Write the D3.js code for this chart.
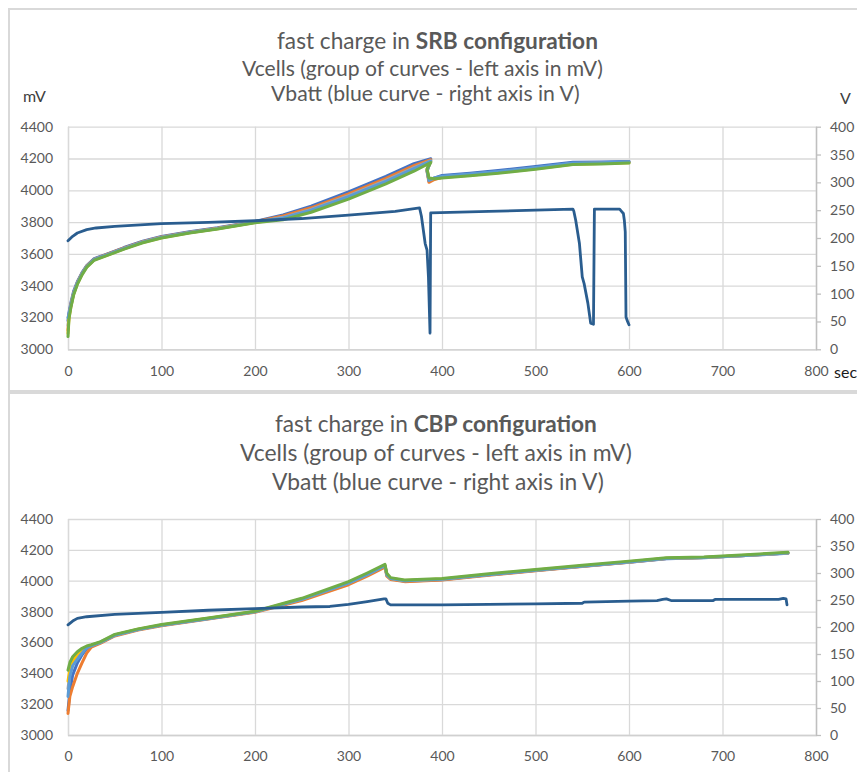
<!DOCTYPE html>
<html>
<head>
<meta charset="utf-8">
<script src="https://cdn.jsdelivr.net/npm/d3@7"></script>
<style>
  body { margin: 0; background: #fff; }
  svg { display: block; font-family: Lato, "Open Sans", sans-serif; }
</style>
</head>
<body>
<svg id="chart" width="857" height="772"></svg>
<script>
// tick labels
var xTicks = [0, 100, 200, 300, 400, 500, 600, 700, 800];
var mvTicks = [3000, 3200, 3400, 3600, 3800, 4000, 4200, 4400];
var vTicks = [0, 50, 100, 150, 200, 250, 300, 350, 400];

// SRB : cell voltages (mV) vs time (s) - note the hook after the peak
var srbT = [0, 1, 3, 6, 10, 15, 20, 28, 40, 60, 80, 100, 130, 160, 200, 230, 260, 300, 340, 370, 388, 384, 386, 392, 400, 430, 460, 500, 540, 570, 600];
var srbCell1 = [3180, 3230, 3290, 3365, 3425, 3482, 3526, 3570, 3596, 3640, 3680, 3710, 3740, 3765, 3804, 3845, 3900, 3990, 4088, 4168, 4198, 4128, 4060, 4078, 4093, 4108, 4124, 4150, 4176, 4178, 4181];
var srbCell2 = [3120, 3210, 3280, 3355, 3420, 3478, 3523, 3567, 3593, 3637, 3677, 3707, 3737, 3762, 3802, 3838, 3890, 3978, 4075, 4155, 4192, 4118, 4050, 4068, 4082, 4098, 4114, 4140, 4168, 4172, 4177];
var srbCell3 = [3150, 3205, 3272, 3350, 3415, 3475, 3520, 3565, 3590, 3635, 3675, 3705, 3735, 3760, 3800, 3830, 3880, 3966, 4062, 4142, 4186, 4125, 4066, 4075, 4085, 4100, 4115, 4141, 4169, 4171, 4176];
var srbCell4 = [3100, 3195, 3265, 3346, 3412, 3472, 3518, 3562, 3588, 3632, 3672, 3702, 3733, 3758, 3798, 3822, 3870, 3955, 4050, 4130, 4180, 4130, 4072, 4074, 4080, 4094, 4110, 4136, 4164, 4168, 4173];
var srbCell5 = [3200, 3220, 3275, 3352, 3418, 3476, 3521, 3566, 3591, 3634, 3674, 3704, 3734, 3759, 3799, 3826, 3875, 3960, 4056, 4136, 4183, 4122, 4062, 4078, 4088, 4103, 4118, 4144, 4171, 4174, 4179];
var srbCell6 = [3080, 3190, 3260, 3342, 3408, 3468, 3515, 3560, 3586, 3630, 3670, 3700, 3731, 3756, 3796, 3815, 3862, 3945, 4040, 4120, 4175, 4135, 4078, 4072, 4078, 4092, 4107, 4133, 4162, 4166, 4171];

// SRB : battery voltage (V)
var srbBattT = [0, 5, 10, 20, 30, 50, 100, 150, 200, 250, 300, 350, 376, 378, 382, 384, 385.5, 387.2, 387.9, 450, 500, 540, 541, 543, 547, 550, 552, 556, 559, 562, 563, 590, 592, 594, 595, 596, 596.8, 598, 600];
var srbBatt = [195, 203, 209, 215, 218, 221, 226, 228, 231, 235, 241, 248, 254, 239, 190, 178, 130, 29, 245, 248, 250, 252, 248, 232, 190, 130, 118, 83, 47, 45, 252, 252, 248, 244, 232, 211, 58, 52, 44];

// CBP : cell voltages (mV)
var cbpT = [0, 2, 5, 10, 15, 20, 25, 35, 50, 75, 100, 150, 200, 250, 300, 320, 339, 341, 345, 360, 400, 450, 500, 550, 600, 640, 680, 720, 770];
var cbpCell1 = [3160, 3280, 3390, 3467, 3520, 3560, 3580, 3603, 3648, 3684, 3712, 3755, 3798, 3878, 3982, 4038, 4096, 4035, 4012, 3997, 4007, 4038, 4066, 4093, 4120, 4143, 4149, 4161, 4178];
var cbpCell2 = [3140, 3250, 3313, 3400, 3467, 3531, 3570, 3596, 3642, 3680, 3708, 3751, 3795, 3872, 3974, 4030, 4088, 4030, 4008, 3994, 4004, 4036, 4064, 4092, 4120, 4144, 4150, 4162, 4179];
var cbpCell3 = [3300, 3400, 3460, 3510, 3545, 3568, 3580, 3601, 3647, 3684, 3712, 3755, 3799, 3880, 3985, 4040, 4098, 4040, 4015, 4000, 4010, 4040, 4068, 4095, 4122, 4145, 4150, 4162, 4180];
var cbpCell4 = [3350, 3430, 3480, 3525, 3552, 3572, 3582, 3602, 3648, 3685, 3713, 3756, 3800, 3881, 3986, 4041, 4099, 4041, 4016, 4001, 4011, 4041, 4069, 4096, 4123, 4146, 4151, 4163, 4181];
var cbpCell5 = [3250, 3380, 3450, 3490, 3530, 3565, 3578, 3600, 3646, 3683, 3711, 3754, 3798, 3879, 3984, 4039, 4097, 4038, 4014, 3999, 4009, 4039, 4067, 4094, 4121, 4144, 4150, 4162, 4179];
var cbpCell6 = [3420, 3470, 3507, 3540, 3562, 3577, 3585, 3605, 3652, 3688, 3716, 3758, 3802, 3886, 3994, 4050, 4106, 4048, 4020, 4005, 4015, 4045, 4073, 4100, 4127, 4149, 4154, 4166, 4184];

// CBP : battery voltage (V)
var cbpBattT = [0, 5, 10, 20, 50, 100, 150, 200, 250, 280, 300, 320, 338, 340, 342, 345, 400, 450, 500, 550, 552, 600, 630, 636, 640, 645, 690, 692, 760, 765, 768, 769];
var cbpBatt = [204, 211, 216, 219, 223.5, 227, 231, 234, 237, 238, 242, 247, 252, 252, 244, 241, 241, 242, 243, 244, 246, 248, 249, 251, 252, 249, 249, 251, 251, 253, 252, 241];

var cellColors = ["#4472C4", "#ED7D31", "#A5A5A5", "#FFC000", "#5B9BD5", "#70AD47"];
var battColor = "#2A5D8F";

var svg = d3.select("#chart");
svg.append("rect").attr("width", 857).attr("height", 772).attr("fill", "#fff");

// chart frames
svg.append("rect").attr("x", 9).attr("y", 9).attr("width", 880).attr("height", 382)
  .attr("fill", "none").attr("stroke", "#d9d9d9").attr("stroke-width", 2);
svg.append("rect").attr("x", 9).attr("y", 393).attr("width", 880).attr("height", 400)
  .attr("fill", "none").attr("stroke", "#d9d9d9").attr("stroke-width", 2);

var x = d3.scaleLinear().domain([0, 800]).range([68, 816]);

// title line: fit font size so the line spans the measured width
function titleLine(parts, x0, width, cy, size) {
  var t = svg.append("text").attr("x", x0).attr("y", cy).attr("fill", "#595959")
    .attr("font-size", size).attr("dominant-baseline", "central");
  parts.forEach(function(p) {
    t.append("tspan").text(p[0]).attr("font-weight", p[1] ? "bold" : "normal");
  });
  var w = t.node().getComputedTextLength();
  t.attr("font-size", size * width / w);
}

function drawChart(cfg) {
  var yL = d3.scaleLinear().domain([3000, 4400]).range([cfg.bottom, cfg.top]);
  var yR = d3.scaleLinear().domain([0, 400]).range([cfg.bottom, cfg.top]);
  var g = svg.append("g");

  // horizontal grid + left labels
  var ax = g.append("g").attr("transform", "translate(68,0)")
    .call(d3.axisLeft(yL).tickValues(mvTicks).tickFormat(d3.format("d"))
      .tickSize(-(816 - 68)).tickPadding(15));
  ax.select(".domain").remove();
  ax.selectAll("line").attr("stroke", "#d9d9d9").attr("stroke-width", 1.3);
  ax.selectAll("text").attr("fill", "#595959").attr("font-size", 14).attr("font-family", "Lato");

  // vertical grid + bottom labels
  var bx = g.append("g").attr("transform", "translate(0," + cfg.bottom + ")")
    .call(d3.axisBottom(x).tickValues(xTicks).tickFormat(d3.format("d"))
      .tickSize(-(cfg.bottom - cfg.top)).tickPadding(cfg.xPad));
  bx.select(".domain").attr("stroke", "#d0d0d0").attr("stroke-width", 1.3);
  bx.selectAll("line").attr("stroke", "#d9d9d9").attr("stroke-width", 1.3);
  bx.selectAll("text").attr("fill", "#595959").attr("font-size", 14).attr("font-family", "Lato");

  // right axis
  var rx = g.append("g").attr("transform", "translate(816,0)")
    .call(d3.axisRight(yR).tickValues(vTicks).tickFormat(d3.format("d"))
      .tickSize(5).tickSizeOuter(0).tickPadding(9));
  rx.select(".domain").attr("stroke", "#bfbfbf").attr("stroke-width", 1.3);
  rx.selectAll("line").attr("stroke", "#bfbfbf").attr("stroke-width", 1.3);
  rx.selectAll("text").attr("fill", "#595959").attr("font-size", 14).attr("font-family", "Lato");

  var lineL = d3.line().x(function(d) { return x(d[0]); }).y(function(d) { return yL(d[1]); });
  var lineR = d3.line().x(function(d) { return x(d[0]); }).y(function(d) { return yR(d[1]); });

  cfg.cells.forEach(function(vals, i) {
    g.append("path").datum(d3.zip(cfg.cellT, vals)).attr("d", lineL)
      .attr("fill", "none").attr("stroke", cellColors[i]).attr("stroke-width", 3)
      .attr("stroke-linejoin", "round").attr("stroke-linecap", "round");
  });
  g.append("path").datum(d3.zip(cfg.battT, cfg.batt)).attr("d", lineR)
    .attr("fill", "none").attr("stroke", battColor).attr("stroke-width", 2.8)
    .attr("stroke-linejoin", "round").attr("stroke-linecap", "round");
}

drawChart({
  top: 126.7, bottom: 349.3, xPad: 17,
  cellT: srbT, cells: [srbCell1, srbCell2, srbCell3, srbCell4, srbCell5, srbCell6],
  battT: srbBattT, batt: srbBatt
});
drawChart({
  top: 519, bottom: 735, xPad: 16,
  cellT: cbpT, cells: [cbpCell1, cbpCell2, cbpCell3, cbpCell4, cbpCell5, cbpCell6],
  battT: cbpBattT, batt: cbpBatt
});

// titles
titleLine([["fast charge in ", false], ["SRB configuration", true]], 277, 321, 40, 20);
titleLine([["Vcells (group of curves - left axis in mV)", false]], 242, 361, 67, 17);
titleLine([["Vbatt (blue curve - right axis in V)", false]], 271, 309, 93, 17);
titleLine([["fast charge in ", false], ["CBP configuration", true]], 275, 322, 423, 20);
titleLine([["Vcells (group of curves - left axis in mV)", false]], 240, 392, 452, 19);
titleLine([["Vbatt (blue curve - right axis in V)", false]], 272, 332, 481, 19);

// unit labels
svg.append("text").attr("x", 23).attr("y", 95).attr("dominant-baseline", "central")
  .attr("font-size", 16).attr("fill", "#404040").text("mV");
svg.append("text").attr("x", 840).attr("y", 97).attr("dominant-baseline", "central")
  .attr("font-size", 16).attr("fill", "#404040").text("V");
svg.append("text").attr("x", 834).attr("y", 371).attr("dominant-baseline", "central")
  .attr("font-size", 16).attr("fill", "#1a1a1a").text("sec");
</script>
</body>
</html>
